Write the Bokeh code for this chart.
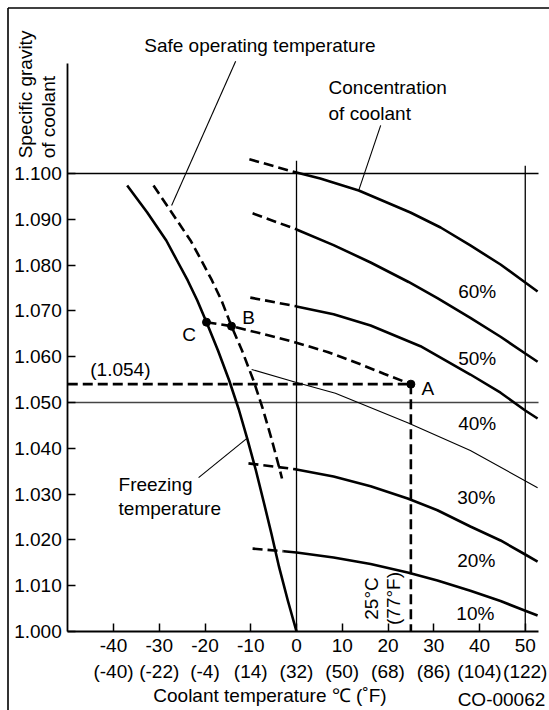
import math
from bokeh.plotting import figure
from bokeh.models import LinearAxis, FixedTicker, PrintfTickFormatter, Label, Range1d
from bokeh.embed import file_html
from bokeh.resources import INLINE

FONT = "Liberation Sans"
FS = "19px"

# ---------------- data ----------------
x_ticks = [-40, -30, -20, -10, 0, 10, 20, 30, 40, 50]
x_labels_c = ["-40", "-30", "-20", "-10", "0", "10", "20", "30", "40", "50"]
x_labels_f = ["(-40)", "(-22)", "(-4)", "(14)", "(32)", "(50)", "(68)", "(86)", "(104)", "(122)"]
y_ticks = [1.000, 1.010, 1.020, 1.030, 1.040, 1.050, 1.060, 1.070, 1.080, 1.090, 1.100]

# concentration curves: dashed (extrapolated) part and solid part
c1_dash_t = [-10.3, 0.0]
c1_dash_sg = [1.1031, 1.1002]
c1_t = [0.0, 5.2, 13.6, 24.9, 31.5, 38.0, 44.6, 50.0, 52.7]
c1_sg = [1.10022, 1.09891, 1.09629, 1.09148, 1.08821, 1.08428, 1.08013, 1.07620, 1.07424]

c2_dash_t = [-9.6, 0.0]
c2_dash_sg = [1.0913, 1.0878]
c2_t = [0.0, 8.1, 16.2, 24.5, 30.8, 38.0, 44.6, 50.0, 52.7]
c2_sg = [1.08777, 1.08437, 1.08057, 1.07631, 1.07277, 1.06849, 1.06435, 1.06070, 1.05889]

c3_dash_t = [-10.1, 0.0]
c3_dash_sg = [1.0729, 1.0710]
c3_t = [0.0, 8.1, 16.2, 27.1, 38.0, 44.6, 50.0, 52.7]
c3_sg = [1.07096, 1.06928, 1.06681, 1.06229, 1.05611, 1.05214, 1.04825, 1.04651]

c4_t = [-9.8, -0.2, 8.5, 24.3, 38.0, 52.7]
c4_sg = [1.0572, 1.0544, 1.0520, 1.0456, 1.0395, 1.0314]

c5_dash_t = [-10.5, 0.0]
c5_dash_sg = [1.0367, 1.0354]
c5_t = [0.0, 8.1, 16.2, 24.3, 30.8, 38.0, 44.6, 50.0, 52.7]
c5_sg = [1.03537, 1.03382, 1.03170, 1.02904, 1.02648, 1.02293, 1.01987, 1.01681, 1.01528]

c6_dash_t = [-9.6, -2.8]
c6_dash_sg = [1.0181, 1.01753]
c6_t = [-2.8, 0.0, 8.1, 16.2, 24.3, 30.8, 38.0, 44.6, 50.0, 52.7]
c6_sg = [1.01753, 1.01725, 1.01616, 1.01472, 1.01288, 1.01114, 1.00891, 1.00664, 1.00454, 1.00349]

conc_labels = ["60%", "50%", "40%", "30%", "20%", "10%"]
conc_label_t = [39.5, 39.5, 39.5, 39.3, 39.3, 39.1]
conc_label_sg = [1.07413, 1.05954, 1.04535, 1.02932, 1.01557, 1.00386]

# freezing temperature curve
frz_t = [-37.01, -32.66, -28.46, -26.12, -23.78, -21.68, -19.67, -17.16, -14.71, -12.61,
         -10.75, -8.87, -7.15, -5.44, -3.80, -1.90, 0.0]
frz_sg = [1.09738, 1.09155, 1.08537, 1.08100, 1.07664, 1.07227, 1.06753, 1.06135, 1.05480, 1.04847,
          1.04207, 1.03515, 1.02823, 1.02118, 1.01404, 1.00677, 1.0]

# safe operating temperature curve
safe_t = [-31.26, -27.32, -23.17, -20.77, -18.47, -16.39, -14.21, -11.91, -9.40, -7.32,
          -5.46, -3.61, -3.17]
safe_sg = [1.09738, 1.09155, 1.08537, 1.08100, 1.07664, 1.07227, 1.06666, 1.06135, 1.05480, 1.04847,
           1.04207, 1.03515, 1.03341]

# example path C -> B -> A
path_t = [-19.67, -14.21, -7.21, -0.2, 6.78, 13.55, 19.23, 25.0]
path_sg = [1.06753, 1.06666, 1.06493, 1.06310, 1.06103, 1.05852, 1.05622, 1.0540]
pts_name = ["C", "B", "A"]
pts_t = [-19.67, -14.21, 25.0]
pts_sg = [1.06753, 1.06666, 1.0540]

a_temp = 25.0
a_sg = 1.054

# reference lines
ref_sg_top = 1.100
ref_sg_mid = 1.050
ref_t = [0.0, 50.0]
ref_t_top = [1.1028, 1.1017]

# ---------------- figure ----------------
# the frame fills the whole canvas; axes are pinned inside it with fixed_location
X0, X1 = -64.70, 55.30
Y0, Y1 = 0.98275, 1.13777
p = figure(width=549, height=710, output_backend="svg", toolbar_location=None,
           x_range=Range1d(X0, X1), y_range=Range1d(Y0, Y1),
           x_axis_type=None, y_axis_type=None,
           min_border_left=0, min_border_right=0, min_border_top=0, min_border_bottom=0)
p.outline_line_color = None
p.background_fill_color = "white"
p.border_fill_color = "white"

xaxis = LinearAxis(ticker=FixedTicker(ticks=x_ticks), bounds=(-50, 52.9), fixed_location=1.0)
xaxis.major_label_overrides = {t: c + "\n" + f for t, c, f in zip(x_ticks, x_labels_c, x_labels_f)}
xaxis.major_tick_in = 8
xaxis.major_tick_out = 0
xaxis.major_tick_line_width = 1.5
xaxis.axis_line_width = 1.8
xaxis.major_label_text_font = FONT
xaxis.major_label_text_font_size = FS
xaxis.major_label_text_color = "black"
xaxis.major_label_standoff = 4
p.add_layout(xaxis, "below")

yaxis = LinearAxis(ticker=FixedTicker(ticks=y_ticks), formatter=PrintfTickFormatter(format="%.3f"),
                   bounds=(1.0, 1.124), fixed_location=-50)
yaxis.major_tick_in = 8
yaxis.major_tick_out = 0
yaxis.major_tick_line_width = 1.5
yaxis.axis_line_width = 1.8
yaxis.major_label_text_font = FONT
yaxis.major_label_text_font_size = FS
yaxis.major_label_text_color = "black"
yaxis.major_label_standoff = 6
p.add_layout(yaxis, "left")

# outer frame of the figure sheet (top and left edges)
p.line([-63.06, X1], [1.13613, 1.13613], line_color="black", line_width=1.6)
p.line([-63.06, -63.06], [Y0, 1.13613], line_color="black", line_width=1.6)

# reference grid lines
p.line([-50, 52.9], [ref_sg_top, ref_sg_top], line_color="black", line_width=1.3)
p.line([-50, 52.9], [ref_sg_mid, ref_sg_mid], line_color="#444444", line_width=1.5)
for t, top in zip(ref_t, ref_t_top):
    p.line([t, t], [1.0, top], line_color="black", line_width=1.3)

DASH = "10 5"
TW = 2.6
for dt, ds, st, ss in [(c1_dash_t, c1_dash_sg, c1_t, c1_sg),
                       (c2_dash_t, c2_dash_sg, c2_t, c2_sg),
                       (c3_dash_t, c3_dash_sg, c3_t, c3_sg),
                       (c5_dash_t, c5_dash_sg, c5_t, c5_sg),
                       (c6_dash_t, c6_dash_sg, c6_t, c6_sg)]:
    p.line(dt, ds, line_color="black", line_width=TW, line_dash=DASH)
    p.line(st, ss, line_color="black", line_width=TW, line_join="round")
p.line(c4_t, c4_sg, line_color="black", line_width=1.1, line_join="round")

p.line(frz_t, frz_sg, line_color="black", line_width=TW, line_join="round")
p.line(safe_t, safe_sg, line_color="black", line_width=TW, line_dash=DASH)
p.line(path_t, path_sg, line_color="black", line_width=TW, line_dash=DASH)
p.line([-50, a_temp], [a_sg, a_sg], line_color="black", line_width=TW, line_dash=DASH)
p.line([a_temp, a_temp], [a_sg, 1.0], line_color="black", line_width=TW, line_dash=DASH)
p.scatter(pts_t, pts_sg, size=8, color="black")

# leader lines
p.line([-13.3, -27.3], [1.1245, 1.0930], line_color="black", line_width=1.1)
p.line([18.4, 13.6], [1.1105, 1.0963], line_color="black", line_width=1.1)
p.line([-21.4, -10.9], [1.0336, 1.0421], line_color="black", line_width=1.1)

def lab(x, y, text, align="center", angle=0.0):
    p.add_layout(Label(x=x, y=y, text=text, text_font=FONT, text_font_size=FS,
                       text_color="black", text_align=align, text_baseline="middle",
                       angle=angle))

lab(-8.0, 1.1279, "Safe operating temperature")
lab(7.0, 1.1187, "Concentration", align="left")
lab(7.0, 1.1130, "of coolant", align="left")
lab(-38.9, 1.03199, "Freezing", align="left")
lab(-38.9, 1.02675, "temperature", align="left")
lab(-23.5, 1.06474, "C")
lab(-10.5, 1.06856, "B")
lab(28.7, 1.05299, "A")
lab(-38.5, 1.05731, "(1.054)")
for name, t, s in zip(conc_labels, conc_label_t, conc_label_sg):
    lab(t, s, name)
lab(16.5, 1.0072, "25°C", angle=math.pi / 2)
lab(21.1, 1.0072, "(77°F)", angle=math.pi / 2)
lab(-59.2, 1.1033, "Specific gravity", align="left", angle=math.pi / 2)
lab(-54.2, 1.1033, "of coolant", align="left", angle=math.pi / 2)
lab(-5.8, 0.98603, "Coolant temperature ℃ (˚F)")
lab(44.8, 0.98515, "CO-00062")

open("out.html", "w").write(file_html(p, INLINE))
